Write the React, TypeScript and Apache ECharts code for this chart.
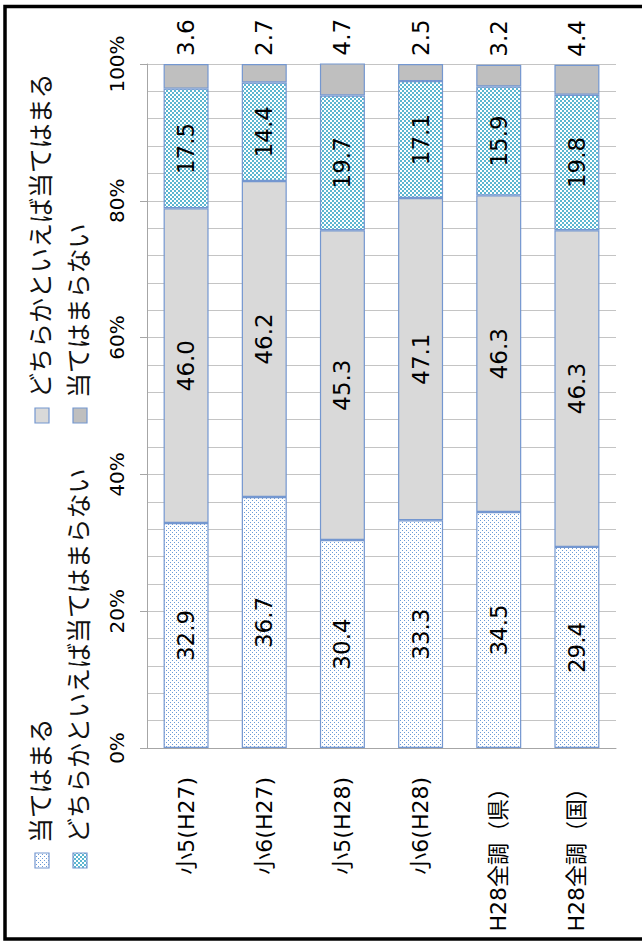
import React, { useEffect, useRef } from 'react';
import * as echarts from 'echarts';

const categories = ['小5(H27)', '小6(H27)', '小5(H28)', '小6(H28)', 'H28全調（県）', 'H28全調（国）'];
const seriesNames = ['当てはまる', 'どちらかといえば当てはまる', 'どちらかといえば当てはまらない', '当てはまらない'];
const valuesAgree = [32.9, 36.7, 30.4, 33.3, 34.5, 29.4];
const valuesSomewhatAgree = [46.0, 46.2, 45.3, 47.1, 46.3, 46.3];
const valuesSomewhatDisagree = [17.5, 14.4, 19.7, 17.1, 15.9, 19.8];
const valuesDisagree = [3.6, 2.7, 4.7, 2.5, 3.2, 4.4];
const axisMin = 0;
const axisMax = 100;
const axisInterval = 20;

const BORDER = '#7497d0';
const NUM_FONT = '"DejaVu Sans", Verdana, sans-serif';
const JP_FONT = '"Noto Sans CJK JP", sans-serif';

function makePattern(size: number, draw: (ctx: CanvasRenderingContext2D) => void) {
  const c = document.createElement('canvas');
  c.width = size;
  c.height = size;
  const ctx = c.getContext('2d') as CanvasRenderingContext2D;
  draw(ctx);
  return { image: c.toDataURL(), repeat: 'repeat', imageWidth: size, imageHeight: size } as any;
}

export default function App() {
  const ref = useRef<HTMLDivElement>(null);
  useEffect(() => {
    if (!ref.current) return;
    const chart = echarts.init(ref.current, undefined, { renderer: 'svg' });

    const dotted = makePattern(4, (ctx) => {
      ctx.fillStyle = '#ffffff';
      ctx.fillRect(0, 0, 4, 4);
      ctx.fillStyle = '#6b9bd6';
      ctx.fillRect(0, 0, 1, 1);
      ctx.fillRect(2, 2, 1, 1);
    });
    const checker = makePattern(4, (ctx) => {
      ctx.fillStyle = '#ffffff';
      ctx.fillRect(0, 0, 4, 4);
      ctx.fillStyle = '#5cb6d0';
      ctx.fillRect(0, 0, 2, 2);
      ctx.fillRect(2, 2, 2, 2);
    });
    const fills = [dotted, '#d9d9d9', checker, '#bfbfbf'];
    const dataSets = [valuesAgree, valuesSomewhatAgree, valuesSomewhatDisagree, valuesDisagree];

    const labelBase = {
      show: true,
      rotate: 90,
      fontSize: 23,
      fontFamily: NUM_FONT,
      color: '#000',
      formatter: (p: any) => Number(p.value).toFixed(1),
    };

    const series = dataSets.map((d, i) => ({
      name: seriesNames[i],
      type: 'bar',
      stack: 'total',
      barWidth: 45,
      data: d,
      itemStyle: { color: fills[i], borderColor: BORDER, borderWidth: 1.2 },
      label:
        i === 3
          ? { ...labelBase, position: 'top', distance: 8, align: 'left', verticalAlign: 'middle' }
          : { ...labelBase, position: 'inside' },
      emphasis: { disabled: true },
    }));

    // legend (rotated)
    const legendItems = [
      { idx: 0, cx: 42, iconY: 853, textY: 843 },
      { idx: 2, cx: 80, iconY: 853, textY: 843 },
      { idx: 1, cx: 42, iconY: 408, textY: 398 },
      { idx: 3, cx: 80, iconY: 408, textY: 398 },
    ];
    const legendGraphics: any[] = [];
    legendItems.forEach((it) => {
      legendGraphics.push({
        type: 'rect',
        shape: { x: it.cx - 7, y: it.iconY, width: 14, height: 15 },
        style: { fill: fills[it.idx], stroke: BORDER, lineWidth: 1.2 },
      });
      legendGraphics.push({
        type: 'text',
        x: it.cx - 3,
        y: it.textY,
        rotation: Math.PI / 2,
        style: {
          text: seriesNames[it.idx],
          fontSize: 25,
          fontFamily: JP_FONT,
          fill: '#111',
          align: 'left',
          verticalAlign: 'middle',
        },
      });
    });

    chart.setOption({
      animation: false,
      backgroundColor: '#ffffff',
      grid: { left: 147, right: 26, top: 64, bottom: 193 },
      xAxis: {
        type: 'category',
        data: categories,
        axisLine: { show: true, lineStyle: { color: '#a6a6a6', width: 1 } },
        axisTick: { show: false },
        axisLabel: {
          interval: 0,
          rotate: 90,
          margin: 29,
          fontSize: 22,
          fontFamily: '"DejaVu Sans", "Noto Sans CJK JP", sans-serif',
          color: '#000',
        },
      },
      yAxis: {
        type: 'value',
        min: axisMin,
        max: axisMax,
        interval: axisInterval,
        axisLine: { show: true, lineStyle: { color: '#a6a6a6', width: 1 } },
        axisTick: { show: true, length: 7, lineStyle: { color: '#a6a6a6' } },
        axisLabel: {
          rotate: 90,
          margin: 20,
          fontSize: 20,
          fontFamily: NUM_FONT,
          color: '#000',
          formatter: '{value}%',
        },
        splitLine: { show: true, lineStyle: { color: '#c4c4c4', width: 1 } },
        minorTick: { show: false, splitNumber: 5 },
        minorSplitLine: { show: true, lineStyle: { color: '#c4c4c4', width: 1 } },
      },
      series,
      graphic: [
        {
          type: 'rect',
          shape: { x: 5, y: 6.5, width: 700, height: 932.5 },
          style: { fill: 'none', stroke: '#000', lineWidth: 3.5 },
          z: 100,
        },
        ...legendGraphics,
      ],
    });
    return () => chart.dispose();
  }, []);
  return (
    <div
      ref={ref}
      style={{ position: 'absolute', left: 0, top: 0, width: 642, height: 941, background: '#fff' }}
    />
  );
}
